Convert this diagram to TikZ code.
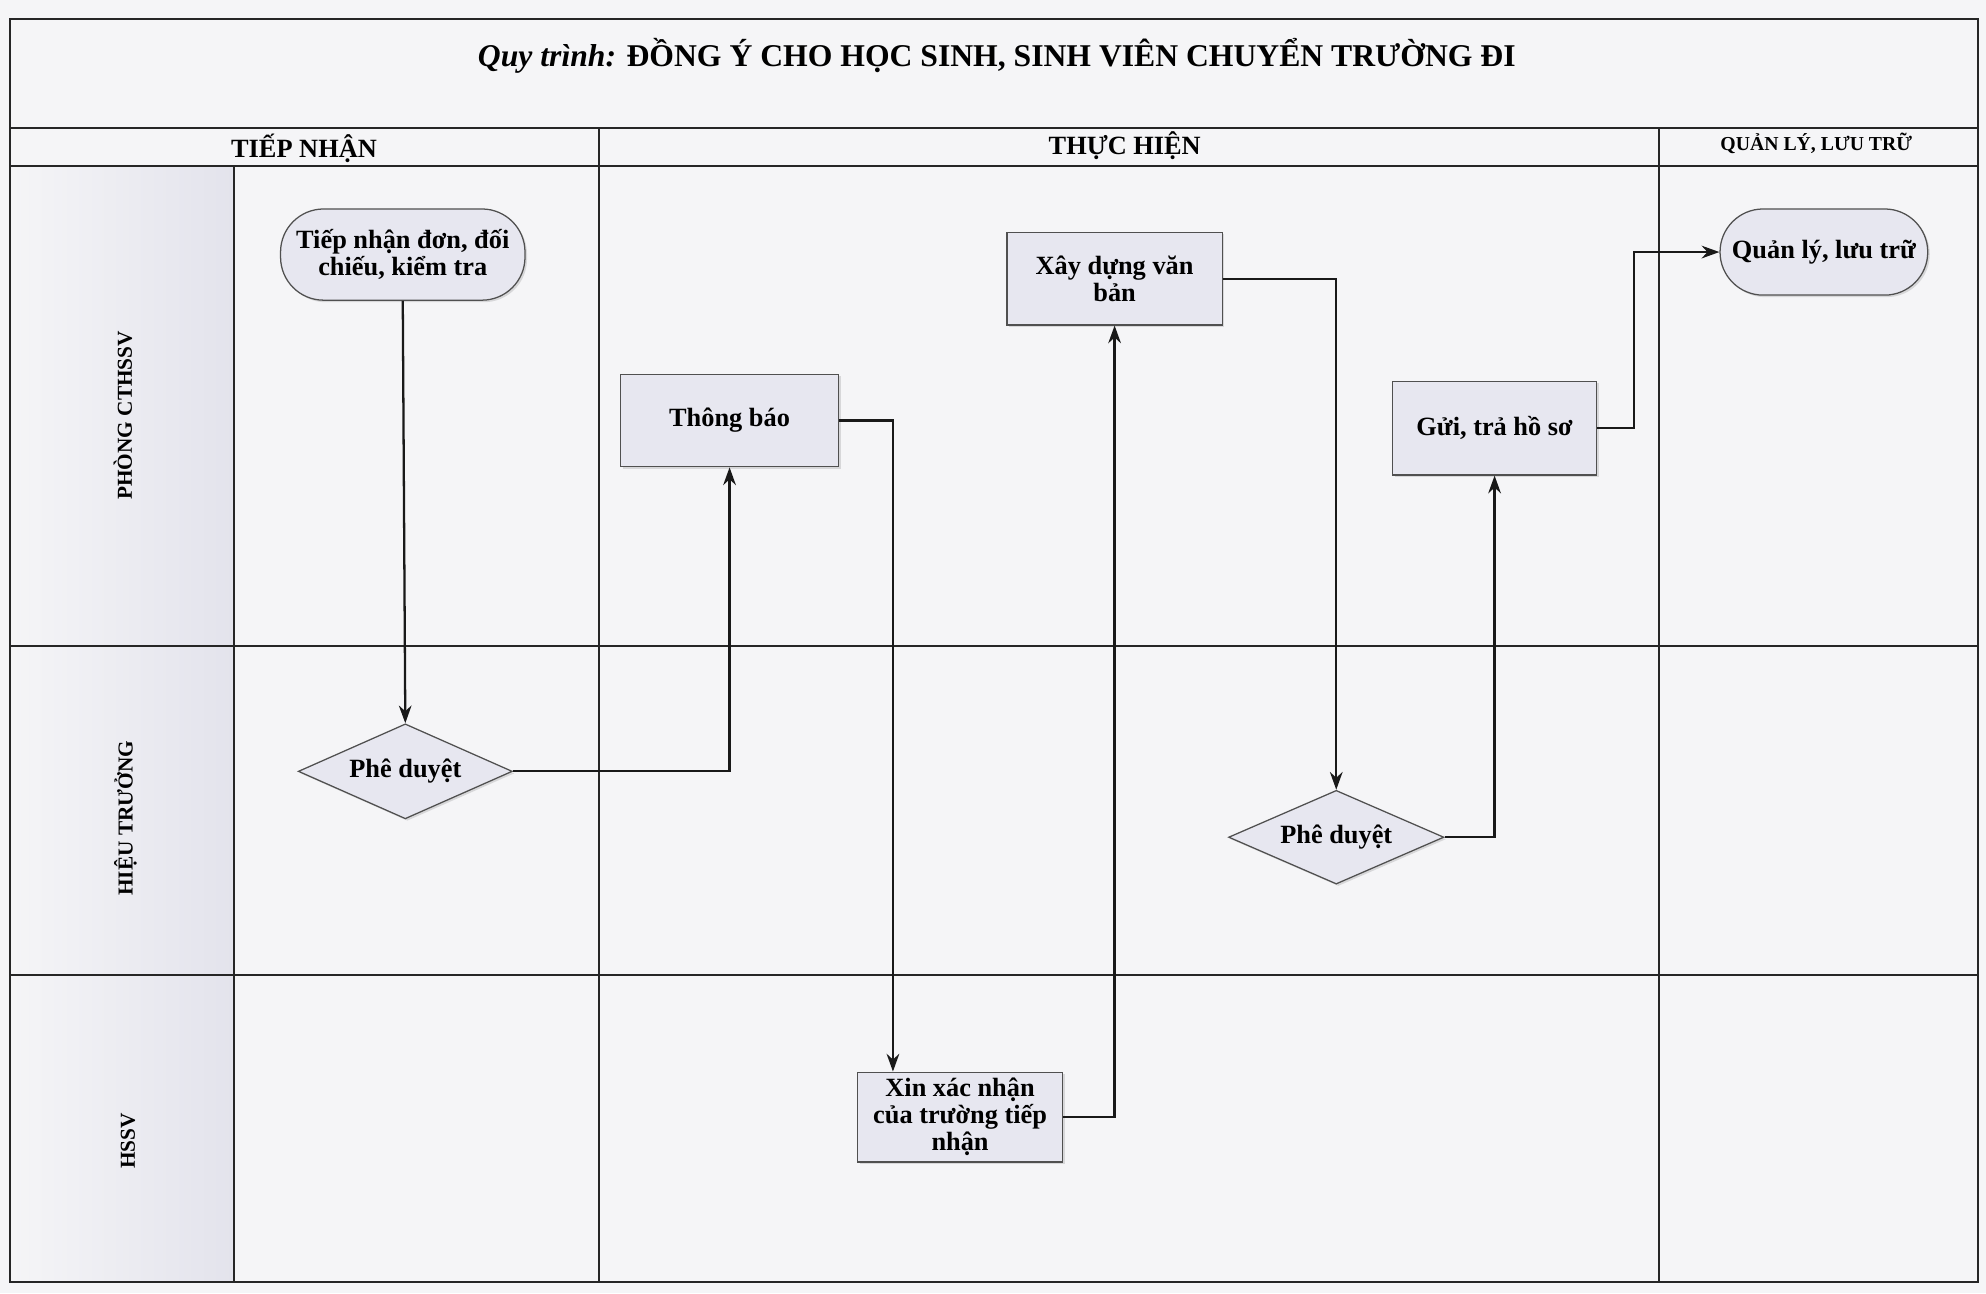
\documentclass[tikz,border=0pt]{standalone}
\usepackage{fontspec}
\setmainfont{Liberation Serif}
\usetikzlibrary{shapes.geometric,arrows.meta,shadows}
\definecolor{paper}{HTML}{F5F5F7}
\definecolor{nodefill}{HTML}{E7E7F0}
\definecolor{lanefill}{HTML}{E3E3EC}
\definecolor{edgecol}{HTML}{505050}
\begin{document}
\begin{tikzpicture}[x=0.5pt,y=-0.5pt,
  frame/.style={line width=0.8pt,draw=black!85},
  nodetext/.style={font=\bfseries\fontsize{10.4}{10.6}\selectfont,align=center,text=black},
  shapebase/.style={nodetext,draw=edgecol,line width=0.5pt,fill=nodefill,inner sep=0pt,
    drop shadow={shadow xshift=0.8pt,shadow yshift=-0.8pt,opacity=0.25}},
  procbox/.style={shapebase,rectangle},
  termnode/.style={shapebase,rectangle,rounded corners=17pt},
  decnode/.style={shapebase,diamond,aspect=2.27},
  headtext/.style={font=\bfseries\fontsize{10.4}{12}\selectfont},
  lanetext/.style={font=\bfseries\fontsize{8.4}{10}\selectfont,rotate=90},
  flow/.style={line width=0.9pt,draw=black!90,-{Stealth[length=7pt,width=5pt]}}]
\useasboundingbox (0,0) rectangle (1568,1021);
\fill[paper] (0,0) rectangle (1568,1021);
% lane label column
\shade[left color=paper,right color=lanefill] (8,131) rectangle (185,1012);
% frame
\draw[frame] (8,15) rectangle (1562,1012);
\draw[frame] (8,101) -- (1562,101);
\draw[frame] (8,131) -- (1562,131);
\draw[frame] (8,510) -- (1562,510);
\draw[frame] (8,770) -- (1562,770);
\draw[frame] (185,131) -- (185,1012);
\draw[frame] (473,101) -- (473,1012);
\draw[frame] (1310,101) -- (1310,1012);
% title and headers
\node[font=\fontsize{12.5}{14}\selectfont] (title) at (787,44) {\textbf{\textit{Quy trình:}} \textbf{ĐỒNG Ý CHO HỌC SINH, SINH VIÊN CHUYỂN TRƯỜNG ĐI}};
\node[headtext] (h1) at (240,117) {TIẾP NHẬN};
\node[headtext] (h2) at (888,115) {THỰC HIỆN};
\node[font=\bfseries\fontsize{7.8}{9}\selectfont] (h3) at (1434,113) {QUẢN LÝ, LƯU TRỮ};
% lane labels
\node[lanetext] (l1) at (97,328) {PHÒNG CTHSSV};
\node[lanetext] (l2) at (99,646) {HIỆU TRƯỞNG};
\node[lanetext] (l3) at (101,901) {HSSV};
% nodes
\node[termnode,minimum width=96.5pt,minimum height=36pt] (tn) at (318,201) {Tiếp nhận đơn, đối\\chiếu, kiểm tra};
\node[decnode,minimum width=84.5pt,minimum height=37.5pt] (pd1) at (320,609) {Phê duyệt};
\node[procbox,minimum width=86pt,minimum height=36.5pt] (tb) at (576,332) {Thông báo};
\node[procbox,minimum width=85pt,minimum height=36.5pt] (xd) at (880,220) {Xây dựng văn\\bản};
\node[procbox,minimum width=81pt,minimum height=35.5pt] (xn) at (758,882) {Xin xác nhận\\của trường tiếp\\nhận};
\node[decnode,minimum width=85pt,minimum height=37pt] (pd2) at (1055,661) {Phê duyệt};
\node[procbox,minimum width=80.5pt,minimum height=37pt] (gt) at (1180,338) {Gửi, trả hồ sơ};
\node[termnode,minimum width=82pt,minimum height=34pt] (ql) at (1440,199) {Quản lý, lưu trữ};
% connectors
\draw[flow] (tn.south) -- (pd1.north);
\draw[flow] (pd1.east) -| (tb.south);
\draw[flow] (tb.east) -| ([xshift=-26.5pt]xn.north);
\draw[flow] (xn.east) -| (xd.south);
\draw[flow] (xd.east) -| (pd2.north);
\draw[flow] (pd2.east) -| (gt.south);
\draw[flow] (gt.east) -- ++(29,0) |- (ql.west);
\end{tikzpicture}
\end{document}
